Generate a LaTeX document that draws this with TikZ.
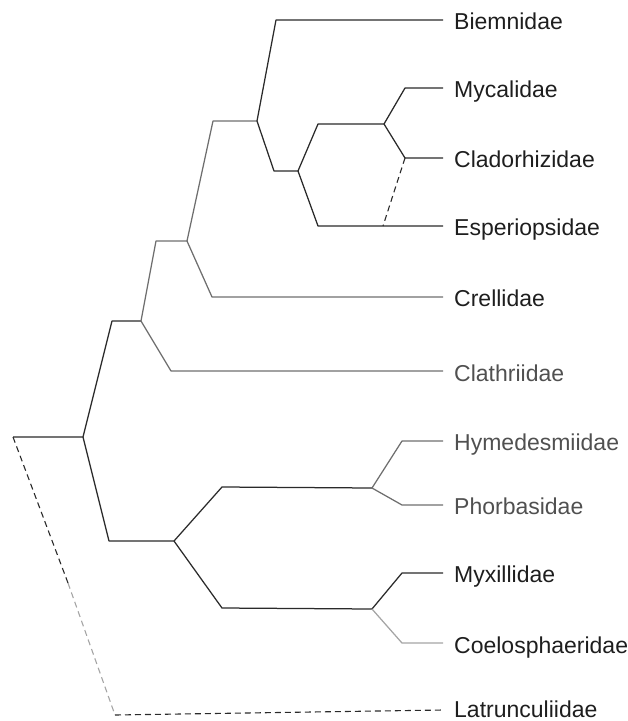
\documentclass[tikz,border=0pt]{standalone}
\usepackage{fontspec}
\setmainfont{Liberation Sans}
\definecolor{dk}{HTML}{2A2A2A}
\definecolor{md}{HTML}{6E6E6E}
\definecolor{lt}{HTML}{A5A5A5}
\definecolor{txt}{HTML}{1E1E1E}
\definecolor{txtg}{HTML}{505050}
\begin{document}
\begin{tikzpicture}[x=1pt,y=-1pt,
  br/.style={draw=dk,line width=1.25pt,line join=round},
  brm/.style={draw=md,line width=1.25pt,line join=round},
  brl/.style={draw=lt,line width=1.25pt,line join=round},
  dsh/.style={draw=dk,line width=1.1pt,dash pattern=on 6pt off 4pt},
  dshl/.style={draw=lt,line width=1.1pt,dash pattern=on 6pt off 4pt},
  lab/.style={anchor=base west,inner sep=0pt,font=\fontsize{23}{25}\selectfont,text=txt}]
\useasboundingbox (0,0) rectangle (628,721);
% branch points
\coordinate (r0) at (13,437);
\coordinate (A) at (83,437);
\coordinate (a1) at (112,321);
\coordinate (B) at (141,321);
\coordinate (b1) at (156,241);
\coordinate (C) at (187,241);
\coordinate (c1) at (213,121);
\coordinate (D) at (257,121);
\coordinate (d1) at (276,20);
\coordinate (d2) at (274,171);
\coordinate (E) at (298,171);
\coordinate (e1) at (318,124);
\coordinate (F) at (384,124);
\coordinate (f1) at (405,88);
\coordinate (f2) at (405,158);
\coordinate (e2) at (318,226);
\coordinate (ed) at (383,226);
\coordinate (c2) at (212,297);
\coordinate (b2) at (171,371);
\coordinate (a2) at (109,541);
\coordinate (G) at (174,541);
\coordinate (g1) at (222,487);
\coordinate (H) at (372,488);
\coordinate (h1) at (402,441);
\coordinate (h2) at (402,505);
\coordinate (g2) at (222,608);
\coordinate (I) at (372,609);
\coordinate (i1) at (402,573);
\coordinate (i2) at (402,643);
\coordinate (rmid) at (68,583);
\coordinate (rc) at (115,715);
% leaf ends
\coordinate (l1) at (443,20);
\coordinate (l2) at (443,88);
\coordinate (l3) at (443,158);
\coordinate (l4) at (443,226);
\coordinate (l5) at (443,297);
\coordinate (l6) at (443,371);
\coordinate (l7) at (443,441);
\coordinate (l8) at (443,505);
\coordinate (l9) at (443,573);
\coordinate (l10) at (443,643);
\coordinate (l11) at (443,710);
% labels
\node[lab] (n1) at (454,29) {Biemnidae};
\node[lab] (n2) at (454,97) {Mycalidae};
\node[lab] (n3) at (454,167) {Cladorhizidae};
\node[lab] (n4) at (454,235) {Esperiopsidae};
\node[lab] (n5) at (454,306) {Crellidae};
\node[lab,text=txtg] (n6) at (454,381) {Clathriidae};
\node[lab,text=txtg] (n7) at (454,450) {Hymedesmiidae};
\node[lab,text=txtg] (n8) at (454,514) {Phorbasidae};
\node[lab] (n9) at (454,582) {Myxillidae};
\node[lab] (n10) at (454,653) {Coelosphaeridae};
\node[lab] (n11) at (454,717) {Latrunculiidae};
% upper clade
\draw[br] (r0) -- (A) -- (a1) -- (B);
\draw[brm] (B) -- (b1) -- (C);
\draw[brm] (C) -- (c1) -- (D);
\draw[br] (D) -- (d1) -- (l1);
\draw[br] (D) -- (d2) -- (E);
\draw[br] (E) -- (e1) -- (F);
\draw[br] (F) -- (f1) -- (l2);
\draw[br] (F) -- (f2) -- (l3);
\draw[br] (E) -- (e2) -- (l4);
\draw[dsh] (f2) -- (ed);
\draw[brm] (C) -- (c2) -- (l5);
\draw[brm] (B) -- (b2) -- (l6);
% lower clade
\draw[br] (A) -- (a2) -- (G);
\draw[br] (G) -- (g1) -- (H);
\draw[brm] (H) -- (h1) -- (l7);
\draw[brm] (H) -- (h2) -- (l8);
\draw[br] (G) -- (g2) -- (I);
\draw[br] (I) -- (i1) -- (l9);
\draw[brl] (I) -- (i2) -- (l10);
% Latrunculiidae
\draw[dsh] (r0) -- (rmid);
\draw[dshl] (rmid) -- (rc);
\draw[dsh] (rc) -- (l11);
\end{tikzpicture}
\end{document}
